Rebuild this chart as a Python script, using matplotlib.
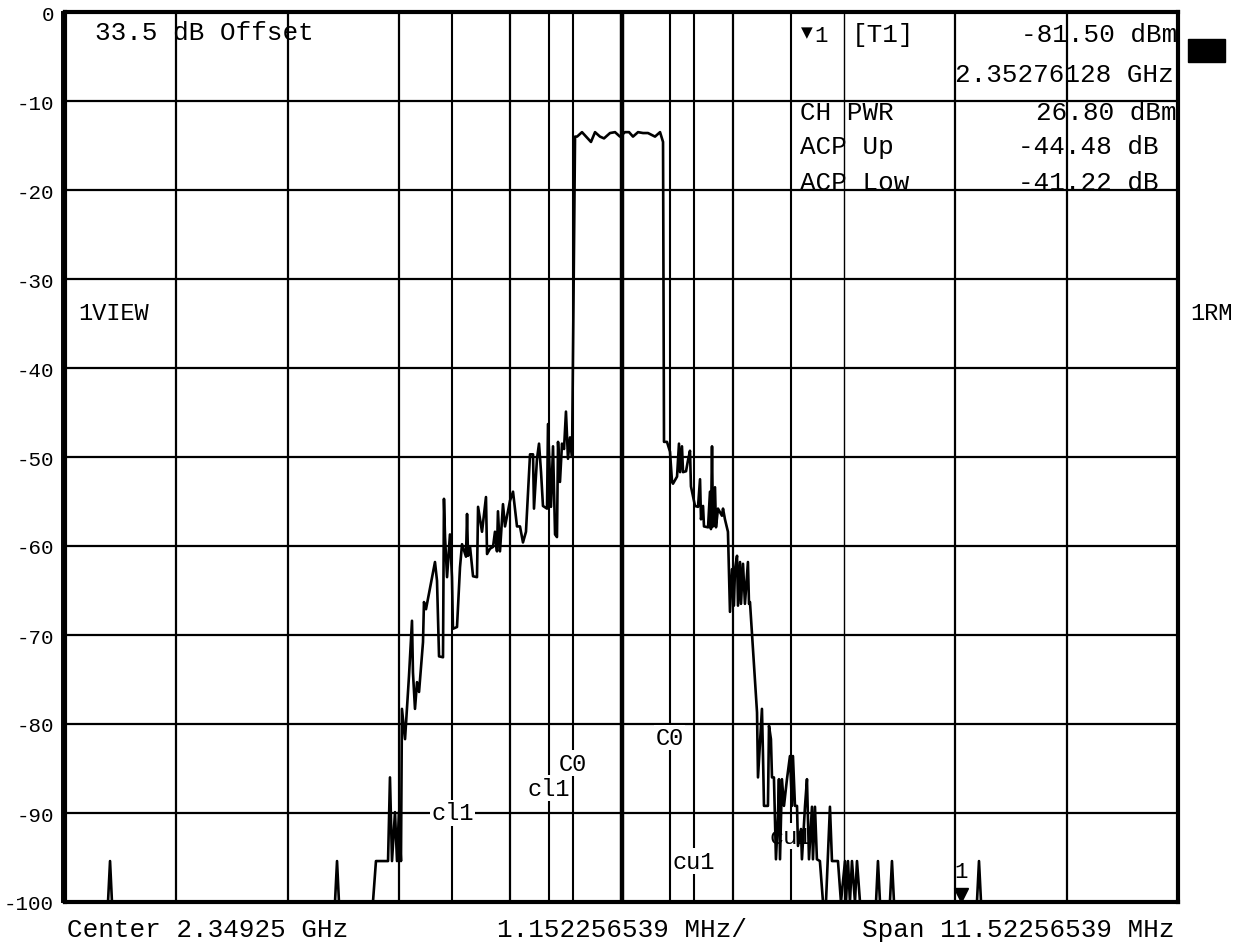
import matplotlib
matplotlib.use('Agg')
import matplotlib.pyplot as plt
from matplotlib.patches import Rectangle

# --- Data (offset from centre in MHz, level in dBm) ---
center_ghz = 2.34925
span_mhz = 11.52256539
div_mhz = span_mhz / 10

trace_freq = [
    -5.761, -5.316, -5.295, -5.275, -2.966, -2.945, -2.925, -2.573, -2.542, -2.417,
    -2.397, -2.376, -2.345, -2.324, -2.304, -2.283, -2.273, -2.241, -2.200, -2.169,
    -2.159, -2.138, -2.117, -2.096, -2.055, -2.045, -2.024, -1.931, -1.910, -1.889,
    -1.848, -1.838, -1.827, -1.806, -1.776, -1.755, -1.745, -1.703, -1.672, -1.651,
    -1.610, -1.599, -1.589, -1.568, -1.537, -1.496, -1.485, -1.444, -1.403, -1.392,
    -1.361, -1.330, -1.310, -1.289, -1.279, -1.258, -1.227, -1.206, -1.154, -1.123,
    -1.082, -1.051, -1.020, -0.989, -0.947, -0.916, -0.906, -0.875, -0.854, -0.833,
    -0.813, -0.771, -0.761, -0.730, -0.709, -0.688, -0.668, -0.657, -0.637, -0.616,
    -0.595, -0.575, -0.554, -0.533, -0.512, -0.481, -0.460, -0.409, -0.367, -0.316,
    -0.274, -0.223, -0.181, -0.119, -0.067, -0.016, 0.036, 0.078, 0.119, 0.171,
    0.223, 0.274, 0.347, 0.399, 0.430, 0.440, 0.471, 0.502, 0.523, 0.533,
    0.575, 0.595, 0.606, 0.626, 0.637, 0.668, 0.688, 0.709, 0.719, 0.761,
    0.792, 0.813, 0.823, 0.844, 0.854, 0.896, 0.916, 0.926, 0.937, 0.947,
    0.968, 0.978, 0.999, 1.040, 1.051, 1.071, 1.102, 1.123, 1.144, 1.164,
    1.175, 1.196, 1.206, 1.227, 1.237, 1.258, 1.278, 1.309, 1.320, 1.330,
    1.361, 1.403, 1.413, 1.454, 1.465, 1.475, 1.516, 1.527, 1.547, 1.558,
    1.578, 1.599, 1.620, 1.630, 1.641, 1.661, 1.682, 1.713, 1.744, 1.765,
    1.775, 1.796, 1.817, 1.827, 1.858, 1.868, 1.900, 1.920, 1.941, 1.972,
    1.982, 2.003, 2.023, 2.054, 2.086, 2.117, 2.158, 2.179, 2.241, 2.272,
    2.314, 2.324, 2.345, 2.365, 2.386, 2.417, 2.438, 2.469, 2.635, 2.655,
    2.676, 2.779, 2.800, 2.821, 3.680, 3.701, 3.722, 5.761,
]
trace_level = [
    -100.0, -100.0, -95.4, -100.0, -100.0, -95.4, -100.0, -100.0, -95.4, -95.4,
    -86.0, -95.4, -89.9, -95.4, -89.9, -95.4, -78.3, -81.7, -74.6, -68.4,
    -74.2, -78.3, -75.3, -76.4, -70.8, -66.3, -67.1, -61.8, -63.9, -72.4,
    -72.5, -54.7, -59.0, -63.5, -58.7, -63.5, -69.3, -69.1, -62.4, -59.8,
    -61.2, -56.4, -61.1, -60.1, -63.4, -63.5, -55.6, -58.4, -54.5, -60.9,
    -60.3, -60.1, -58.4, -60.6, -56.1, -60.6, -55.3, -57.8, -54.9, -53.9,
    -57.8, -57.8, -59.6, -58.4, -49.7, -49.7, -55.8, -50.2, -48.5, -51.7,
    -55.5, -55.8, -46.3, -55.6, -48.8, -58.7, -59.0, -48.3, -52.8, -48.5,
    -49.1, -44.9, -50.2, -47.8, -49.9, -14.0, -14.0, -13.5, -14.0, -14.6,
    -13.5, -14.0, -14.2, -13.6, -13.5, -14.0, -13.5, -13.5, -14.0, -13.5,
    -13.6, -13.6, -14.0, -13.5, -14.6, -48.3, -48.3, -49.4, -52.8, -53.0,
    -52.2, -48.5, -51.7, -48.8, -51.7, -51.6, -50.4, -49.3, -53.3, -55.5,
    -55.6, -52.5, -57.0, -55.5, -57.8, -57.9, -53.9, -58.1, -48.8, -57.8,
    -53.4, -57.9, -55.8, -56.6, -55.8, -57.0, -58.4, -67.4, -62.6, -66.7,
    -62.6, -61.1, -66.7, -61.8, -66.5, -62.0, -66.5, -61.8, -66.5, -66.3,
    -71.6, -78.7, -86.0, -78.3, -83.6, -89.2, -89.2, -80.2, -81.7, -86.0,
    -86.0, -95.2, -90.3, -86.2, -95.2, -86.2, -89.2, -86.2, -83.6, -89.2,
    -83.6, -89.2, -89.2, -93.7, -91.8, -95.2, -89.2, -86.2, -95.2, -89.3,
    -95.2, -89.3, -95.2, -95.4, -100.0, -100.0, -89.3, -95.4, -95.4, -100.0,
    -95.4, -100.0, -95.4, -100.0, -95.4, -100.0, -95.4, -100.0, -100.0, -95.4,
    -100.0, -100.0, -95.4, -100.0, -100.0, -95.4, -100.0, -100.0,
]

# channel limit lines: (offset MHz, label, label level dBm)
chan_lines = [-1.75, -0.75, -0.5, 0.5, 0.75, 1.75]
chan_labels = ['cl1', 'cl1', 'C0', 'C0', 'cu1', 'cu1']
chan_label_lvl = [-90.0, -87.2, -84.4, -81.5, -95.4, -92.6]

marker_freq_ghz = 2.35276128
marker_level = -100.0
ref_levels = list(range(0, -101, -10))

MONO = ['Liberation Mono', 'DejaVu Sans Mono', 'DejaVu Sans']
plt.rcParams['font.family'] = MONO

W, H = 1242, 945
fig = plt.figure(figsize=(W / 100, H / 100), dpi=100)
ax = fig.add_axes([65 / W, 1 - 903 / H, (1178 - 65) / W, (903 - 13) / H])
half = span_mhz / 2
ax.set_xlim(-half, half)
ax.set_ylim(-100, 0)

# graticule
for i in range(1, 10):
    xv = -half + i * div_mhz
    if i == 5:
        ax.axvline(xv, color='black', lw=3.2, zorder=2)
    elif i == 7:
        ax.axvline(xv, color='black', lw=1.0, zorder=2)
    else:
        ax.axvline(xv, color='black', lw=1.6, zorder=2)
for lv in ref_levels[1:-1]:
    ax.axhline(lv, color='black', lw=1.6, zorder=2)

# channel lines + labels
for xv, lab, lv in zip(chan_lines, chan_labels, chan_label_lvl):
    ax.axvline(xv, color='black', lw=1.5, zorder=2)
    ax.text(xv, lv, lab, ha='center', va='center', fontsize=17, zorder=4,
            bbox=dict(boxstyle='square,pad=0.05', fc='white', ec='none'))

ax.plot(trace_freq, trace_level, color='black', lw=1.9, zorder=5, clip_on=False)

# marker 1
mk = (marker_freq_ghz - center_ghz) * 1000
ax.plot([mk], [marker_level + 0.8], marker='v', color='black', ms=10, zorder=6,
        clip_on=False)
ax.text(mk, marker_level + 2.2, '1', ha='center', va='bottom', fontsize=16, zorder=6)

for side in ['top', 'right', 'bottom', 'left']:
    ax.spines[side].set_linewidth(3)
ax.plot([-half - 0.035, -half - 0.035], [-100, 0], color='black', lw=1.4,
        clip_on=False, zorder=6)

ax.set_xticks([])
ax.set_yticks(ref_levels)
ax.set_yticklabels([str(v) for v in ref_levels], fontsize=15)
ax.tick_params(axis='y', length=0, pad=8)

def ftxt(x, y, s, **kw):
    fig.text(x / W, 1 - y / H, s, va='center', **kw)

FS = 18.7
ftxt(95, 33, '33.5 dB Offset', fontsize=FS)
ftxt(78, 313, '1VIEW', fontsize=17)
ftxt(1190, 313, '1RM', fontsize=17)

ftxt(801, 33, '\u25bc', fontsize=11, family=['DejaVu Sans'])
ftxt(814, 37, '1', fontsize=16)
ftxt(852, 35, '[T1]', fontsize=FS)
ftxt(1177, 35, '-81.50 dBm', fontsize=FS, ha='right')
ftxt(1174, 75, '2.35276128 GHz', fontsize=FS, ha='right')
ftxt(800, 113, 'CH PWR', fontsize=FS)
ftxt(1177, 113, '26.80 dBm', fontsize=FS, ha='right')
ftxt(800, 147, 'ACP Up', fontsize=FS)
ftxt(1159, 147, '-44.48 dB', fontsize=FS, ha='right')
ftxt(800, 183, 'ACP Low', fontsize=FS)
ftxt(1159, 183, '-41.22 dB', fontsize=FS, ha='right')

fig.patches.append(Rectangle((1188 / W, 1 - 63 / H), 37 / W, 23 / H,
                             transform=fig.transFigure, fc='black', ec='black'))

ftxt(67, 930, 'Center 2.34925 GHz', fontsize=FS)
ftxt(622, 930, '1.152256539 MHz/', fontsize=FS, ha='center')
ftxt(1175, 930, 'Span 11.52256539 MHz', fontsize=FS, ha='right')

fig.savefig('out.png', dpi=100, facecolor='white')
